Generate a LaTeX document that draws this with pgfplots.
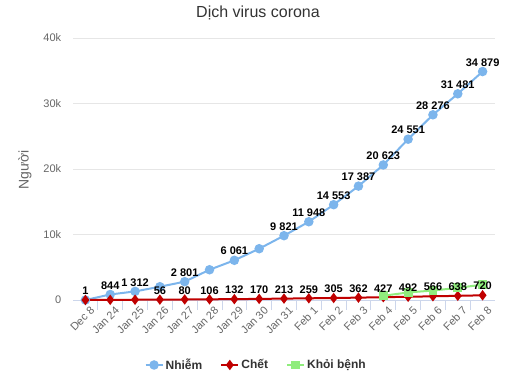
\documentclass[border=0pt]{standalone}
\usepackage{pgfplots}
\pgfplotsset{compat=1.18}
\usepackage{fontspec}
\setmainfont{Liberation Sans}
\definecolor{cblue}{HTML}{7CB5EC}
\definecolor{cred}{HTML}{C00000}
\definecolor{cgreen}{HTML}{90ED7D}
\definecolor{tgray}{HTML}{666666}
\definecolor{ttl}{HTML}{333333}
\definecolor{gridc}{HTML}{E6E6E6}
\definecolor{axl}{HTML}{CCD6EB}
\begin{document}
\begin{tikzpicture}[x=1pt,y=1pt]
\path[use as bounding box] (0,0) rectangle (514,373);
\begin{axis}[at={(73pt,73pt)}, anchor=south west, scale only axis,
  width=422pt, height=262pt,
  xmin=-0.5, xmax=16.5, ymin=0, ymax=40000,
  axis x line*=bottom, axis y line*=left,
  y axis line style={draw=none},
  x axis line style={draw=axl, line width=1pt, -},
  xtick={0,...,16},
  xticklabels={Dec 8,Jan 24,Jan 25,Jan 26,Jan 27,Jan 28,Jan 29,Jan 30,Jan 31,Feb 1,Feb 2,Feb 3,Feb 4,Feb 5,Feb 6,Feb 7,Feb 8},
  xticklabel style={rotate=45, anchor=north east, font=\fontsize{11}{11}\selectfont, text=tgray, inner sep=1pt, yshift=-3pt, xshift=3pt},
  major x tick style={draw=none},
  minor xtick={0.5,1.5,...,15.5},
  minor x tick style={draw=axl, line width=0.8pt},
  minor tick length=10pt, tick align=outside,
  ytick={0,10000,20000,30000,40000},
  yticklabels={0,10k,20k,30k,40k},
  scaled y ticks=false,
  major y tick style={draw=none},
  yticklabel style={font=\fontsize{11}{11}\selectfont, text=tgray, xshift=-4pt},
  ymajorgrids, grid style={draw=gridc, line width=1pt},
  legend columns=3,
  legend style={draw=none, at={(0.434,-0.248)}, anchor=center,
    font=\bfseries\fontsize{12}{12}\selectfont, text=ttl,
    /tikz/every even column/.append style={column sep=16pt}},
  legend cell align=left,
  nodes near coords style={font=\bfseries\fontsize{11}{11}\selectfont, text=black, inner sep=2pt, yshift=3pt},
  clip=false,
]
% Nhiem
\addplot[cblue, line width=2pt, mark=*, mark size=3.7pt, mark options={draw=cblue, fill=cblue}]
coordinates {(0,1) (1,844) (2,1312) (3,2030) (4,2801) (5,4620) (6,6061) (7,7830) (8,9821) (9,11948) (10,14553) (11,17387) (12,20623) (13,24551) (14,28276) (15,31481) (16,34879)};
\addlegendentry{Nhiễm}
% Chet
\addplot[cred, line width=2pt, mark=diamond*, mark size=3.6pt, mark options={draw=cred, fill=cred}]
coordinates {(0,0) (1,26) (2,41) (3,56) (4,80) (5,106) (6,132) (7,170) (8,213) (9,259) (10,305) (11,362) (12,427) (13,492) (14,566) (15,638) (16,720)};
\addlegendentry{Chết}
% Khoi benh
\addplot[cgreen, line width=2pt, mark=square*, mark size=3.4pt, mark options={draw=cgreen, fill=cgreen}]
coordinates {(12,650) (13,1150) (14,1450) (15,1850) (16,2350)};
\addlegendentry{Khỏi bệnh}
% labels (blue)
\addplot[draw=none, mark=none, forget plot, nodes near coords, point meta=explicit symbolic, nodes near coords align={above}]
coordinates {(0,1) [1] (1,844) [844] (2,1312) [1 312] (4,2801) [2 801] (6,6061) [6 061] (8,9821) [9 821] (9,11948) [11 948] (10,14553) [14 553] (11,17387) [17 387] (12,20623) [20 623] (13,24551) [24 551] (14,28276) [28 276] (15,31481) [31 481] (16,34879) [34 879]};
% labels (red)
\addplot[draw=none, mark=none, forget plot, nodes near coords, point meta=explicit symbolic, nodes near coords align={above}]
coordinates {(3,56) [56] (4,80) [80] (5,106) [106] (6,132) [132] (7,170) [170] (8,213) [213] (9,259) [259] (10,305) [305] (11,362) [362] (12,427) [427] (13,492) [492] (14,566) [566] (15,638) [638] (16,720) [720]};
\end{axis}
\node[font=\fontsize{16}{16}\selectfont, text=ttl] at (258,360) {Dịch virus corona};
\node[rotate=90, font=\fontsize{14}{14}\selectfont, text=tgray] at (25,203) {Người};
\end{tikzpicture}
\end{document}
